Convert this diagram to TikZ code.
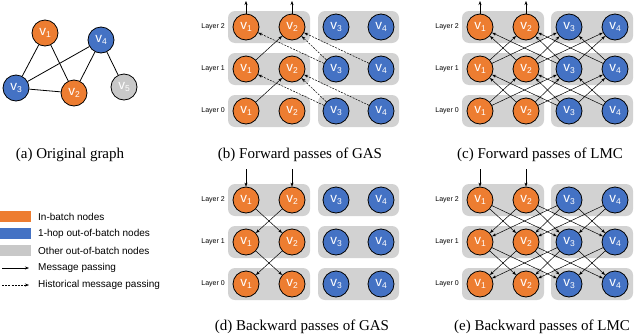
\documentclass[tikz,border=0pt]{standalone}
\usepackage{fontspec}
\setmainfont{Liberation Serif}
\setsansfont{Liberation Sans}
\usetikzlibrary{arrows.meta}
\definecolor{borange}{RGB}{237,125,49}
\definecolor{bblue}{RGB}{68,114,196}
\definecolor{bgray}{RGB}{200,200,200}
\definecolor{boxgray}{RGB}{210,210,210}
\newcommand\vlab[1]{v\raisebox{-0.4ex}{\fontsize{8.5}{9}\selectfont #1}}
\tikzset{
 vnode/.style={circle, draw=black, line width=0.8pt, minimum size=26pt, inner sep=0pt, text=white, font=\sffamily\fontsize{13.5}{13.5}\selectfont},
 inb/.style={vnode, fill=borange},
 hop/.style={vnode, fill=bblue},
 oth/.style={vnode, fill=bgray},
 msg/.style={-{Stealth[length=4pt,width=3pt]}, line width=0.5pt},
 hist/.style={msg, dash pattern=on 2pt off 1.2pt},
 layerbox/.style={fill=boxgray, rounded corners=7pt},
 laylabel/.style={anchor=east, font=\sffamily\fontsize{7}{8}\selectfont, inner sep=0pt},
 captext/.style={font=\fontsize{15}{17}\selectfont, inner sep=0pt},
 legtext/.style={anchor=west, font=\sffamily\fontsize{10}{12}\selectfont, inner sep=0pt},
 gedge/.style={line width=0.8pt},
}
\begin{document}
\begin{tikzpicture}[x=1pt,y=-1pt]
\useasboundingbox (0,0) rectangle (640,335);
% (a) original graph
\node[inb] (a1) at (45,33) {\vlab1};
\node[inb] (a2) at (74,93) {\vlab2};
\node[hop] (a3) at (16,88) {\vlab3};
\node[hop] (a4) at (101,40) {\vlab4};
\node[oth] (a5) at (124,87) {\vlab5};
\draw[gedge] (a1) -- (a3);
\draw[gedge] (a1) -- (a2);
\draw[gedge] (a3) -- (a2);
\draw[gedge] (a3) -- (a4);
\draw[gedge] (a2) -- (a4);
\draw[gedge] (a4) -- (a5);
\node[captext] (capa) at (70,155) {(a) Original graph};
% panels
\foreach \p/\xa/\xb/\xc/\xd/\yy in {b/246/292/336/381/0, c/480/526/569/615/0, d/246/292/336/381/173, e/480/526/569/615/173} {
  \foreach \l/\ly in {2/27,1/69,0/111} {
    \fill[layerbox] (\xa-18,\ly+\yy-16) rectangle (\xb+18,\ly+\yy+16);
    \fill[layerbox] (\xc-18,\ly+\yy-16) rectangle (\xd+18,\ly+\yy+16);
    \node[laylabel] (\p lab\l) at (\xa-21,\ly+\yy) {Layer \l};
    \node[inb] (\p\l1) at (\xa,\ly+\yy) {\vlab1};
    \node[inb] (\p\l2) at (\xb,\ly+\yy) {\vlab2};
    \node[hop] (\p\l3) at (\xc,\ly+\yy) {\vlab3};
    \node[hop] (\p\l4) at (\xd,\ly+\yy) {\vlab4};
  }
}
% (b) forward GAS
\coordinate (bt1) at (246,1);
\coordinate (bt2) at (292,1);
\draw[msg] (b21) -- (bt1);
\draw[msg] (b22) -- (bt2);
\foreach \l/\m in {0/1,1/2} {
  \draw[msg] (b\l1) -- (b\m2);
  \draw[hist] (b\l3) -- (b\m1);
  \draw[hist] (b\l3) -- (b\m2);
  \draw[hist] (b\l4) -- (b\m2);
}
% (c) forward LMC
\coordinate (ct1) at (480,1);
\coordinate (ct2) at (526,1);
\draw[msg] (c21) -- (ct1);
\draw[msg] (c22) -- (ct2);
\foreach \l/\m in {0/1,1/2} {
  \foreach \s/\t in {1/2,2/1,1/3,3/1,2/3,3/2,2/4,4/2,3/4,4/3} {
    \draw[msg] (c\l\s) -- (c\m\t);
  }
}
% (d) backward GAS
\coordinate (dt1) at (246,169);
\coordinate (dt2) at (292,169);
\draw[msg] (dt1) -- (d21);
\draw[msg] (dt2) -- (d22);
\foreach \l/\m in {2/1,1/0} {
  \draw[msg] (d\l1) -- (d\m2);
  \draw[msg] (d\l2) -- (d\m1);
}
% (e) backward LMC
\coordinate (et1) at (480,169);
\coordinate (et2) at (526,169);
\draw[msg] (et1) -- (e21);
\draw[msg] (et2) -- (e22);
\foreach \l/\m in {2/1,1/0} {
  \foreach \s/\t in {1/2,2/1,1/3,3/1,2/3,3/2,2/4,4/2,3/4,4/3} {
    \draw[msg] (e\l\s) -- (e\m\t);
  }
}
% captions
\node[captext] (capb) at (300,155) {(b) Forward passes of GAS};
\node[captext] (capc) at (540,155) {(c) Forward passes of LMC};
\node[captext] (capd) at (302,327) {(d) Backward passes of GAS};
\node[captext] (cape) at (542,327) {(e) Backward passes of LMC};
% legend
\fill[borange] (0,211) rectangle (31,222);
\fill[bblue] (0,228) rectangle (31,239);
\fill[bgray] (0,245) rectangle (31,256);
\node[legtext] (l1) at (38,216.5) {In-batch nodes};
\node[legtext] (l2) at (38,233.5) {1-hop out-of-batch nodes};
\node[legtext] (l3) at (38,250.5) {Other out-of-batch nodes};
\coordinate (la1) at (2,268);
\coordinate (la2) at (29,268);
\coordinate (lb1) at (2,285);
\coordinate (lb2) at (29,285);
\draw[msg] (la1) -- (la2);
\draw[hist] (lb1) -- (lb2);
\node[legtext] (l4) at (38,268) {Message passing};
\node[legtext] (l5) at (38,285) {Historical message passing};
\end{tikzpicture}
\end{document}
